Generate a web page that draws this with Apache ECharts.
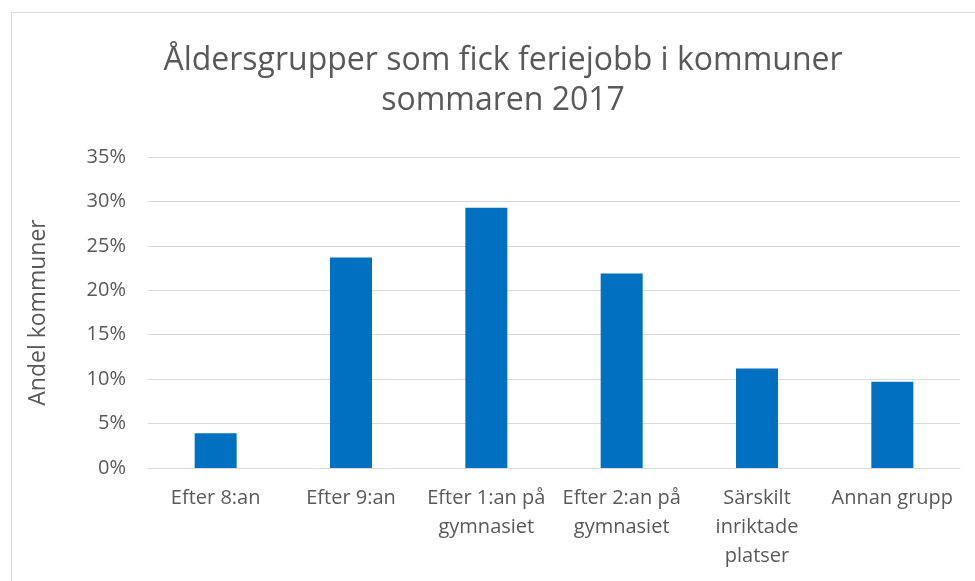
<!DOCTYPE html>
<html>
<head>
<meta charset="utf-8">
<script src="https://cdn.jsdelivr.net/npm/echarts@6/dist/echarts.min.js"></script>
<style>
  html, body { margin: 0; padding: 0; background: #fff; }
  #myChart { width: 975px; height: 581px; }
</style>
</head>
<body>
<div id="myChart"></div>
<script>
// data
var categories = ['Efter 8:an', 'Efter 9:an', 'Efter 1:an på\ngymnasiet', 'Efter 2:an på\ngymnasiet', 'Särskilt\ninriktade\nplatser', 'Annan grupp']
var andel = [3.9, 23.7, 29.3, 21.9, 11.2, 9.7]
var yTicks = [0, 5, 10, 15, 20, 25, 30, 35]

var font = '"Open Sans", "Noto Sans", sans-serif'
var grey = '#595959'

var myChart = echarts.init(document.getElementById('myChart'))
myChart.setOption({
    animation: false,
    textStyle: { fontFamily: font },
    graphic: [{
        type: 'rect',
        shape: { x: 11.5, y: 12.5, width: 990, height: 600 },
        style: { fill: 'none', stroke: '#d9d9d9', lineWidth: 1 }
    }],
    title: {
        text: 'Åldersgrupper som fick feriejobb i kommuner\nsommaren 2017',
        left: 498,
        textAlign: 'center',
        top: 36,
        textStyle: { fontFamily: font, fontSize: 32, fontWeight: 'normal', color: grey, lineHeight: 40 }
    },
    grid: { left: 148, right: 15, top: 157, bottom: 113 },
    xAxis: {
        type: 'category',
        data: categories,
        axisLine: { lineStyle: { color: '#d9d9d9', width: 1 } },
        axisTick: { show: false },
        axisLabel: { color: grey, fontSize: 20, lineHeight: 29, margin: 16, interval: 0 }
    },
    yAxis: {
        type: 'value',
        min: yTicks[0],
        max: yTicks[yTicks.length - 1],
        interval: 5,
        name: 'Andel kommuner',
        nameLocation: 'middle',
        nameGap: 98,
        nameTextStyle: { color: grey, fontSize: 23 },
        axisLine: { show: false },
        axisTick: { show: false },
        axisLabel: { color: grey, fontSize: 20, margin: 22, formatter: '{value}%' },
        splitLine: { lineStyle: { color: '#d9d9d9', width: 1 } }
    },
    series: [{
        type: 'bar',
        data: andel,
        barWidth: 42,
        itemStyle: { color: '#0070c0' }
    }]
})
</script>
</body>
</html>
